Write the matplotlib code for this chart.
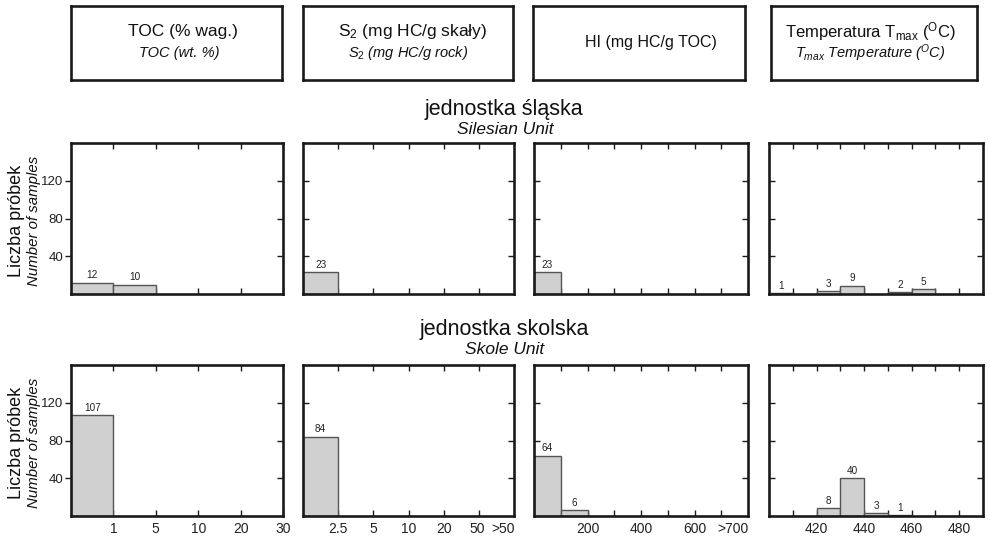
import matplotlib
matplotlib.use("Agg")
import matplotlib.pyplot as plt
import numpy as np

plt.rcParams['font.family'] = ['Liberation Sans', 'DejaVu Sans']
plt.rcParams['mathtext.fontset'] = 'custom'
plt.rcParams['mathtext.rm'] = 'Liberation Sans'
plt.rcParams['mathtext.it'] = 'Liberation Sans:italic'
plt.rcParams['mathtext.bf'] = 'Liberation Sans:bold'

# ---------------- data ----------------
header_pl = ["TOC (% wag.)", "S$_2$ (mg HC/g skały)", "HI (mg HC/g TOC)",
             r"Temperatura T$_{\mathrm{max}}$ ($^{\mathrm{O}}$C)"]
header_en = ["TOC (wt. %)", r"$S_2$ (mg HC/g rock)", None,
             r"$T_{max}$ Temperature ($^{O}$C)"]

unit_pl = ["jednostka śląska", "jednostka skolska"]
unit_en = ["Silesian Unit", "Skole Unit"]

# TOC: categorical bins (0-1, 1-5, 5-10, 10-20, 20-30)
toc_bin_left = [0, 1, 2, 3, 4]
toc_silesian = [12, 10, 0, 0, 0]
toc_skole = [107, 0, 0, 0, 0]
toc_tick_pos = [1, 2, 3, 4, 5]
toc_tick_labels = ["1", "5", "10", "20", "30"]

# S2: categorical bins (0-2.5, 2.5-5, 5-10, 10-20, 20-50, >50)
s2_bin_left = [0, 1, 2, 3, 4, 5]
s2_silesian = [23, 0, 0, 0, 0, 0]
s2_skole = [84, 0, 0, 0, 0, 0]
s2_tick_pos = [1, 2, 3, 4, 5]
s2_label_pos = [1, 2, 3, 4, 4.95, 5.68]
s2_tick_labels = ["2.5", "5", "10", "20", "50", ">50"]

# HI: bins of 100
hi_bin_left = [0, 100, 200, 300, 400, 500, 600, 700]
hi_silesian = [23, 0, 0, 0, 0, 0, 0, 0]
hi_skole = [64, 6, 0, 0, 0, 0, 0, 0]
hi_tick_pos = [100, 200, 300, 400, 500, 600, 700]
hi_label_pos = [200, 400, 600, 745]
hi_tick_labels = ["200", "400", "600", ">700"]

# Tmax: bins of 10
tmax_bin_left = [400, 410, 420, 430, 440, 450, 460, 470, 480]
tmax_silesian = [1, 0, 3, 9, 0, 2, 5, 0, 0]
tmax_skole = [0, 0, 8, 40, 3, 1, 0, 0, 0]
tmax_tick_pos = [410, 420, 430, 440, 450, 460, 470, 480]
tmax_label_pos = [420, 440, 460, 480]
tmax_tick_labels = ["420", "440", "460", "480"]

y_ticks = [40, 80, 120]
y_max = 160

panels = [
    dict(left=toc_bin_left, w=1, rows=[toc_silesian, toc_skole], xlim=(0, 5),
         ticks=toc_tick_pos, lpos=toc_tick_pos, labels=toc_tick_labels),
    dict(left=s2_bin_left, w=1, rows=[s2_silesian, s2_skole], xlim=(0, 6),
         ticks=s2_tick_pos, lpos=s2_label_pos, labels=s2_tick_labels),
    dict(left=hi_bin_left, w=100, rows=[hi_silesian, hi_skole], xlim=(0, 800),
         ticks=hi_tick_pos, lpos=hi_label_pos, labels=hi_tick_labels),
    dict(left=tmax_bin_left, w=10, rows=[tmax_silesian, tmax_skole], xlim=(400, 490),
         ticks=tmax_tick_pos, lpos=tmax_label_pos, labels=tmax_tick_labels),
]

# ---------------- layout ----------------
W, H = 990, 537
fig = plt.figure(figsize=(W / 100, H / 100), dpi=100)

col_px = [(71, 283), (303, 514), (534, 748), (769, 983)]
row_px = [(143, 294), (365, 516)]
box_px = [(71, 282), (303, 513), (533, 745), (771, 977)]
box_y = (6, 80)

spine_col = "#1a1a1a"
bar_face = "#d0d0d0"
bar_edge = "#555555"
text_col = "#111111"


def fx(px):
    return px / W


def fy(py):
    return 1 - py / H


# header boxes: (x-frac of line 1, size of line 1, x-frac of line 2)
hdr_fmt = [(0.53, 12.5, 0.515), (0.52, 12.5, 0.50), (0.557, 11.5, None), (0.485, 12, 0.48)]
for i, (x0, x1) in enumerate(box_px):
    bax = fig.add_axes([fx(x0), fy(box_y[1]), fx(x1 - x0), (box_y[1] - box_y[0]) / H])
    bax.set_xticks([])
    bax.set_yticks([])
    for s in bax.spines.values():
        s.set_linewidth(1.9)
        s.set_color(spine_col)
    xa, fs, xb = hdr_fmt[i]
    if header_en[i] is None:
        bax.text(xa, 0.5, header_pl[i], ha='center', va='center', fontsize=fs,
                 transform=bax.transAxes, color=text_col)
    else:
        bax.text(xa, 0.655, header_pl[i], ha='center', va='center', fontsize=fs,
                 transform=bax.transAxes, color=text_col)
        bax.text(xb, 0.36, header_en[i], ha='center', va='center', fontsize=10.5,
                 style='italic', transform=bax.transAxes, color=text_col)

# row titles
title_y = [(110, 129), (329, 350)]
for r in range(2):
    fig.text(fx(504), fy(title_y[r][0]), unit_pl[r], ha='center', va='center',
             fontsize=15.5, color=text_col)
    fig.text(fx(505), fy(title_y[r][1]), unit_en[r], ha='center', va='center',
             fontsize=12.5, style='italic', color=text_col)

# y labels
for r in range(2):
    yc = (row_px[r][0] + row_px[r][1]) / 2 + 2
    fig.text(fx(17), fy(yc), "Liczba próbek", rotation=90, ha='center', va='center',
             fontsize=13, color=text_col)
    fig.text(fx(34), fy(yc), "Number of samples", rotation=90, ha='center', va='center',
             fontsize=10.8, style='italic', color=text_col)

for r in range(2):
    for c, p in enumerate(panels):
        x0, x1 = col_px[c]
        y0, y1 = row_px[r]
        ax = fig.add_axes([fx(x0), fy(y1), fx(x1 - x0), (y1 - y0) / H])
        counts = p['rows'][r]
        lefts = [l for l, v in zip(p['left'], counts) if v > 0]
        vals = [v for v in counts if v > 0]
        ax.bar(lefts, vals, width=p['w'], align='edge', color=bar_face,
               edgecolor=bar_edge, linewidth=1.0, zorder=2)
        for l, v in zip(lefts, vals):
            ax.text(l + p['w'] / 2, v + 2.5, str(v), ha='center', va='bottom',
                    fontsize=7.2, color="#222222")
        ax.set_xlim(*p['xlim'])
        ax.set_ylim(0, y_max)
        ax.set_yticks(y_ticks)
        ax.set_xticks(p['ticks'])
        ax.set_xticklabels([])
        ax.tick_params(axis='x', which='major', direction='in', top=True, bottom=True,
                       length=4, width=1, color=spine_col, labelbottom=False)
        ax.tick_params(axis='y', which='major', direction='in', left=True, right=True,
                       length=4, width=1, color=spine_col)
        if c == 0:
            ax.tick_params(axis='y', which='major', direction='out', left=True,
                           labelleft=True, labelsize=9.5, pad=1.5, labelcolor="#222222")
            sec = ax.secondary_yaxis('right')
            sec.set_yticks(y_ticks)
            sec.tick_params(direction='in', length=4, width=1, color=spine_col,
                            labelright=False)
            sec.spines['right'].set_visible(False)
            ax.tick_params(axis='y', right=False)
        else:
            ax.tick_params(axis='y', labelleft=False)
        if r == 1:
            secx = ax.secondary_xaxis('bottom')
            secx.set_xticks(p['lpos'])
            secx.set_xticklabels(p['labels'])
            secx.tick_params(length=0, labelsize=10, pad=4, labelcolor="#222222")
            secx.spines['bottom'].set_visible(False)
        for s in ax.spines.values():
            s.set_linewidth(1.9)
            s.set_color(spine_col)

fig.savefig("out.png", dpi=100)
